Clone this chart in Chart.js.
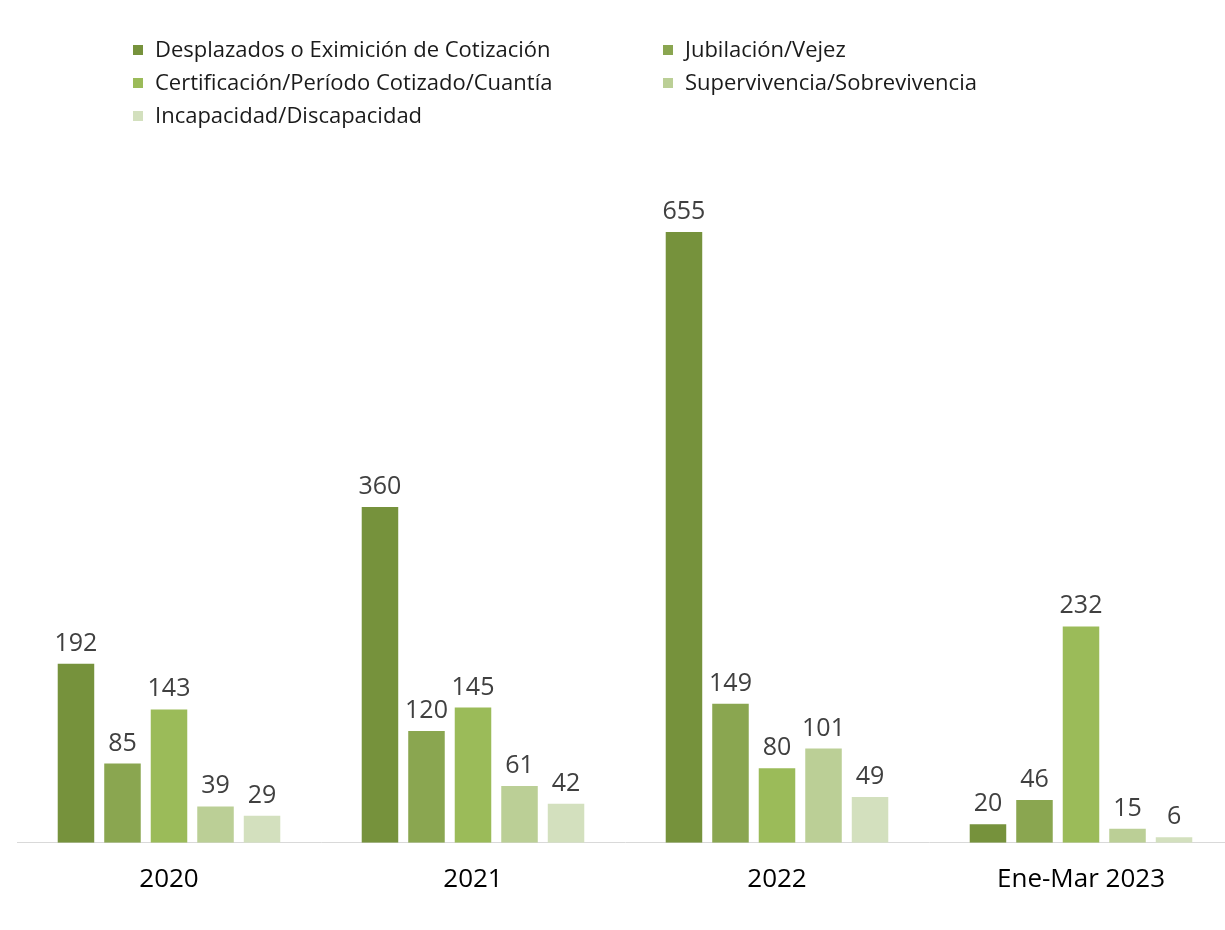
<!DOCTYPE html>
<html>
<head>
<meta charset="utf-8">
<script src="https://cdn.jsdelivr.net/npm/chart.js@4/dist/chart.umd.min.js"></script>
<style>
  html, body { margin: 0; padding: 0; background: #ffffff; overflow: hidden; width: 1225px; height: 930px; }
  #wrap { position: relative; width: 1240px; height: 930px; }
  #legend { position: absolute; left: 133px; top: 34px; font-family: "Open Sans", sans-serif; font-size: 22px; color: #1a1a1a; }
  .item { position: absolute; white-space: nowrap; line-height: 28px; }
  .sw { display: inline-block; width: 10px; height: 10px; margin-right: 12px; vertical-align: 2px; }
</style>
</head>
<body>
<div id="wrap">
  <canvas id="c" width="1240" height="930"></canvas>
  <div id="legend"></div>
</div>
<script>
const categories = ["2020", "2021", "2022", "Ene-Mar 2023"];
const seriesNames = [
  "Desplazados o Eximición de Cotización",
  "Jubilación/Vejez",
  "Certificación/Período Cotizado/Cuantía",
  "Supervivencia/Sobrevivencia",
  "Incapacidad/Discapacidad"
];
const desplazados = [192, 360, 655, 20];
const jubilacion = [85, 120, 149, 46];
const certificacion = [143, 145, 80, 232];
const supervivencia = [39, 61, 101, 15];
const incapacidad = [29, 42, 49, 6];
const colors = ["#76923C", "#8AA650", "#9BBB59", "#BBCF96", "#D3E0BE"];

const seriesValues = [desplazados, jubilacion, certificacion, supervivencia, incapacidad];

// HTML legend in two columns
const legendPos = [[0,0],[530,0],[0,33],[530,33],[0,66]];
const leg = document.getElementById('legend');
seriesNames.forEach((n, i) => {
  const d = document.createElement('div');
  d.className = 'item';
  d.style.left = legendPos[i][0] + 'px';
  d.style.top = legendPos[i][1] + 'px';
  d.innerHTML = '<span class="sw" style="background:' + colors[i] + '"></span>' + n;
  leg.appendChild(d);
});

const valueLabels = {
  id: 'valueLabels',
  afterDatasetsDraw(chart) {
    const ctx = chart.ctx;
    ctx.save();
    ctx.font = '25px "Open Sans", sans-serif';
    ctx.fillStyle = '#404040';
    ctx.textAlign = 'center';
    ctx.textBaseline = 'alphabetic';
    chart.data.datasets.forEach((ds, di) => {
      const meta = chart.getDatasetMeta(di);
      meta.data.forEach((bar, i) => {
        ctx.fillText(String(ds.data[i]), bar.x, bar.y - 13);
      });
    });
    ctx.restore();
  }
};

new Chart(document.getElementById('c'), {
  type: 'bar',
  data: {
    labels: categories,
    datasets: seriesNames.map((n, i) => ({
      label: n,
      data: seriesValues[i],
      backgroundColor: colors[i],
      borderWidth: 0,
      categoryPercentage: 0.765,
      barPercentage: 0.785
    }))
  },
  options: {
    responsive: false,
    animation: false,
    layout: { padding: { left: 17, right: 7, top: 190, bottom: 14 } },
    plugins: { legend: { display: false }, tooltip: { enabled: false } },
    scales: {
      x: {
        grid: { display: false, drawTicks: false },
        border: { display: true, color: '#d9d9d9', width: 1 },
        ticks: { color: '#000000', font: { family: '"Open Sans", sans-serif', size: 26 }, padding: 21 }
      },
      y: {
        display: false,
        min: 0,
        max: 700
      }
    }
  },
  plugins: [valueLabels]
});
</script>
</body>
</html>
